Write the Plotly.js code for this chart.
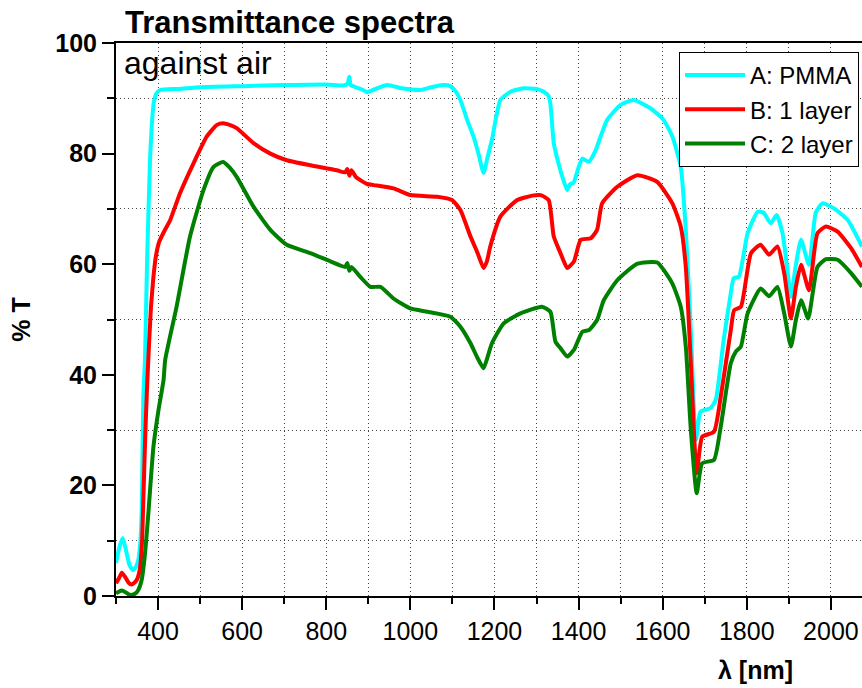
<!DOCTYPE html>
<html>
<head>
<meta charset="utf-8">
<script src="https://cdn.plot.ly/plotly-3.0.1.min.js"></script>
<style>html,body{margin:0;padding:0;background:#fff;}#chart{width:862px;height:688px;}</style>
</head>
<body>
<div id="chart"></div>
<script>
// Series names
const seriesNames = ["A: PMMA", "B: 1 layer", "C: 2 layer"];

// A: PMMA
const wlA = [300,308,316,324,332,340,347,353,358,361,363,365,369,374,381,385,390,397,405,450,500,600,700,800,840,850,855,858,870,885,897,920,945,980,1024,1050,1079,1095,1108,1119,1135,1150,1162,1174,1184,1194,1205,1214,1238,1269,1300,1317,1328,1333,1341,1352,1364,1373,1380,1388,1400,1409,1424,1440,1452,1468,1500,1531,1571,1602,1623,1643,1655,1667,1679,1690,1714,1726,1745,1762,1769,1781,1802,1826,1840,1857,1871,1885,1895,1905,1917,1929,1948,1964,1980,2007,2040,2074];
const tA = [6.0,8.8,10.5,8.2,5.6,4.7,5.2,6.5,10,15,25,36,43,61,79,85,89.3,91.0,91.5,91.7,92.0,92.2,92.4,92.5,92.3,92.6,93.9,92.4,92.0,91.6,91.1,91.8,92.4,91.8,91.5,92.0,92.4,92.2,91.2,89.7,86.1,83.1,80.0,76.5,79.5,82.5,87.0,89.7,91.2,91.8,91.7,91.2,90.5,89.0,81.9,78.3,75.2,73.4,74.5,74.7,77.5,79.1,78.5,80.5,83.0,86.1,88.8,89.7,88.2,86.1,83.1,77.6,66.2,48.1,28.2,33.3,34.0,35.4,46.3,54.8,57.5,57.7,65.6,69.5,69.3,67.4,68.9,65.6,60.0,54.1,60.0,64.4,59.9,69.3,71.0,70.1,68.0,63.2];

// B: 1 layer
const wlB = [300,307,314,322,330,337,345,350,357,362,366,370,374,377,383,389,395,403,415,429,452,484,516,540,555,570,587,627,667,706,762,825,845,850,855,860,870,881,897,913,960,1000,1064,1099,1119,1143,1160,1174,1182,1190,1214,1254,1290,1310,1329,1341,1357,1365,1373,1389,1405,1429,1444,1456,1492,1540,1587,1623,1643,1655,1667,1681,1694,1722,1738,1762,1770,1786,1810,1833,1853,1873,1889,1905,1917,1929,1948,1968,1988,2016,2048,2074];
const tB = [2.3,3.2,4.2,3.4,2.4,2.1,2.5,3,5,10,20,30,38,43,52,57.7,61.5,64.1,66,68.0,72.8,78.2,83.1,85.2,85.5,85.2,84.6,81.9,80.0,78.8,77.9,77.0,76.6,77.2,76.0,77.0,75.8,75.2,74.5,74.3,73.7,72.5,72.2,71.6,69.8,65.0,62.0,59.3,60.5,63.2,68.6,71.6,72.4,72.5,71.6,65.0,62.0,60.5,59.3,60.5,64.4,64.7,66.2,71.0,74.0,76.1,74.9,71.0,66.8,59.5,42.1,22.2,28.8,29.7,36.0,48.1,51.7,52.3,62.0,63.5,61.7,63.2,58.4,50.2,56.0,59.9,55.3,65.6,66.8,65.9,62.9,59.5];

// C: 2 layer
const wlC = [300,307,314,322,330,337,345,353,361,369,377,389,401,413,417,444,476,508,532,555,570,587,627,667,706,762,810,845,850,855,860,881,905,929,960,1000,1040,1095,1119,1143,1160,1174,1182,1194,1222,1262,1313,1333,1345,1357,1373,1389,1409,1425,1444,1460,1492,1540,1587,1623,1643,1655,1667,1681,1694,1722,1738,1762,1774,1786,1802,1833,1853,1873,1889,1905,1917,1929,1946,1968,1988,2016,2048,2074];
const tC = [0.5,0.8,1.0,0.7,0.3,0.2,0.4,1.1,2.9,7.7,15,27,33.6,39,42.7,52.3,65.0,73.4,77.6,78.5,77.5,75.8,70.4,66.2,63.5,62.0,60.5,59.5,60.2,58.8,59.5,57.7,55.9,55.9,53.8,52.0,51.4,50.5,48.7,45.7,43.0,41.2,42.8,45.7,49.3,51.1,52.3,51.4,46.0,44.8,43.3,44.5,47.8,48.1,49.9,53.5,57.1,60.1,60.3,56.5,52.3,45.1,30.0,18.6,24.0,24.6,30.6,42.1,44.2,45.1,51.1,55.6,54.2,55.9,51.1,45.1,50.0,53.5,50.2,59.5,60.9,60.8,58.4,55.9];

const FONT = "Liberation Sans, Arial, Helvetica, sans-serif";
const mk = (x, y, name, color) => ({
  type: "scatter", mode: "lines", x: x, y: y, name: name,
  line: {color: color, width: 4, shape: "spline", smoothing: 0.5}
});
const traces = [
  mk(wlA, tA, seriesNames[0], "#00FFFF"),
  mk(wlB, tB, seriesNames[1], "#FF0000"),
  mk(wlC, tC, seriesNames[2], "#008000")
];

const gridDash = "1px,3px";
const layout = {
  width: 862, height: 688,
  margin: {l: 116, r: 0, t: 43, b: 92, pad: 0},
  paper_bgcolor: "#fff", plot_bgcolor: "#fff",
  font: {family: FONT, color: "#000"},
  showlegend: true,
  title: {
    text: "<b>Transmittance spectra</b>",
    font: {size: 31, family: FONT, color: "#000"},
    xref: "container", x: 125 / 862, xanchor: "left",
    yref: "container", y: 1 - 22 / 688, yanchor: "middle"
  },
  xaxis: {
    range: [300, 2074], dtick: 200, tick0: 0,
    showline: true, linecolor: "#000", linewidth: 2, mirror: true,
    ticks: "outside", ticklen: 12, tickwidth: 2, tickcolor: "#000",
    showgrid: true, gridcolor: "#444", gridwidth: 1, griddash: gridDash,
    zeroline: false,
    tickfont: {size: 25, family: FONT, color: "#000"},
    minor: {dtick: 100, tick0: 0, ticks: "outside", ticklen: 6, tickwidth: 2, tickcolor: "#000",
            showgrid: true, gridcolor: "#444", gridwidth: 1, griddash: gridDash}
  },
  yaxis: {
    range: [0, 100], dtick: 20, tick0: 0,
    showline: true, linecolor: "#000", linewidth: 2,
    ticks: "outside", ticklen: 12, tickwidth: 2, tickcolor: "#000",
    showgrid: false, zeroline: false,
    tickfont: {size: 25, family: FONT, color: "#000", weight: "bold"},
    title: {text: "<b>% T</b>\u00a0\u00a0\u00a0\u00a0\u00a0\u00a0\u00a0", font: {size: 25, family: FONT, color: "#000"}, standoff: 18},
    minor: {dtick: 10, tick0: 0, ticks: "outside", ticklen: 7, tickwidth: 2, tickcolor: "#000",
            showgrid: true, gridcolor: "#444", gridwidth: 1, griddash: gridDash}
  },
  legend: {
    x: (679 - 116) / 746, xanchor: "left",
    y: 1 - (52 - 43) / 553, yanchor: "top",
    bgcolor: "#fff", bordercolor: "#000", borderwidth: 1,
    font: {size: 24, family: FONT, color: "#000"},
    itemwidth: 60, tracegroupgap: 0
  },
  annotations: [
    {text: "against air", xref: "paper", yref: "paper", x: (122 - 116) / 746, y: 1,
     xanchor: "left", yanchor: "top", showarrow: false,
     font: {size: 32, family: FONT, color: "#000"}},
    {text: "<b>λ [nm]</b>", xref: "paper", yref: "paper", x: (755.5 - 116) / 746, y: (596 - 670) / 553,
     xanchor: "center", yanchor: "middle", showarrow: false,
     font: {size: 25, family: FONT, color: "#000"}}
  ]
};

Plotly.newPlot("chart", traces, layout, {displayModeBar: false, staticPlot: true});
</script>
</body>
</html>
